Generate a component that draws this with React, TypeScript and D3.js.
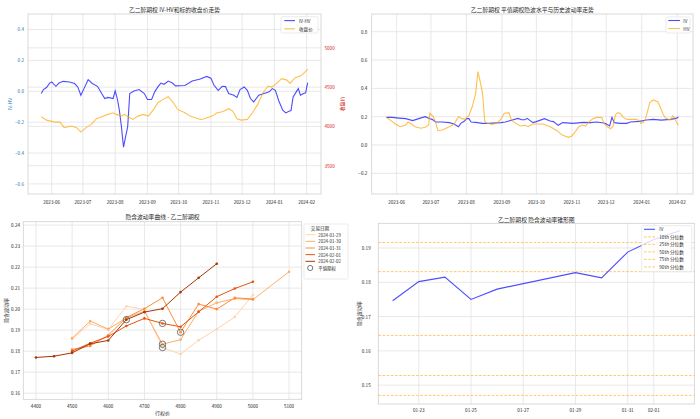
import React from 'react';
import * as d3 from 'd3';

const FONT = '"Noto Sans CJK SC", "DejaVu Sans", sans-serif';
const TEXT = '#262626';
const GRID = '#e2e2e2';
const SPINE = '#d0d0d0';

// ---------- Panel 1: IV-HV and close price ----------
const ivhvDates = ['2023-05-22','2023-05-24','2023-05-27','2023-05-30','2023-06-01','2023-06-05','2023-06-08','2023-06-12','2023-06-18','2023-06-23','2023-06-26','2023-06-29','2023-07-02','2023-07-06','2023-07-10','2023-07-15','2023-07-19','2023-07-22','2023-07-25','2023-07-30','2023-08-01','2023-08-03','2023-08-05','2023-08-07','2023-08-09','2023-08-11','2023-08-13','2023-08-15','2023-08-19','2023-08-24','2023-08-29','2023-09-01','2023-09-05','2023-09-08','2023-09-11','2023-09-14','2023-09-17','2023-09-21','2023-09-25','2023-09-28','2023-10-07','2023-10-14','2023-10-21','2023-10-28','2023-11-01','2023-11-04','2023-11-08','2023-11-12','2023-11-15','2023-11-18','2023-11-23','2023-11-26','2023-11-29','2023-12-03','2023-12-06','2023-12-09','2023-12-12','2023-12-17','2023-12-22','2023-12-27','2023-12-30','2024-01-02','2024-01-05','2024-01-09','2024-01-12','2024-01-15','2024-01-17','2024-01-19','2024-01-22','2024-01-24','2024-01-26','2024-01-29','2024-01-31','2024-02-02'];
const ivhvValues = [-0.015,0.011,0.024,0.053,0.06,0.032,0.053,0.064,0.06,0.05,0.028,-0.026,0.017,0.075,0.05,0.032,-0.015,-0.047,-0.04,-0.047,0.002,-0.047,-0.122,-0.23,-0.362,-0.294,-0.23,-0.015,0.002,0.011,-0.015,-0.053,-0.053,-0.004,0.028,0.053,0.045,0.066,0.053,0.035,0.037,0.066,0.078,0.096,0.085,0.039,0.006,0.032,0.03,-0.015,-0.026,-0.04,0.011,0.028,0.006,-0.047,-0.069,-0.026,-0.015,-0.004,0.017,0.006,-0.058,-0.122,-0.14,-0.13,-0.125,-0.037,-0.004,0.017,-0.026,-0.015,-0.01,0.055];

const closeDates = ['2023-05-22','2023-05-27','2023-06-04','2023-06-09','2023-06-13','2023-06-20','2023-06-25','2023-06-29','2023-07-04','2023-07-09','2023-07-14','2023-07-19','2023-07-25','2023-07-30','2023-08-02','2023-08-07','2023-08-10','2023-08-15','2023-08-18','2023-08-23','2023-08-28','2023-09-02','2023-09-07','2023-09-11','2023-09-16','2023-09-21','2023-09-26','2023-09-30','2023-10-07','2023-10-12','2023-10-22','2023-10-25','2023-11-02','2023-11-07','2023-11-12','2023-11-18','2023-11-22','2023-11-26','2023-11-30','2023-12-06','2023-12-11','2023-12-16','2023-12-21','2023-12-26','2023-12-29','2024-01-01','2024-01-08','2024-01-13','2024-01-16','2024-01-21','2024-01-26','2024-01-29','2024-02-02'];
const closeValues = [4123,4080,4055,4055,3984,4004,3984,3928,3984,4026,4098,4123,4153,4174,4153,4131,4153,4111,4089,4131,4153,4131,4216,4302,4344,4378,4300,4216,4174,4131,4089,4095,4131,4174,4187,4225,4195,4098,4080,4089,4174,4280,4429,4513,4500,4522,4607,4589,4547,4620,4640,4674,4725];

// ---------- Panel 2: IV and HV ----------
const ivDates = ['2023-05-23','2023-05-28','2023-06-03','2023-06-09','2023-06-15','2023-06-21','2023-06-26','2023-06-30','2023-07-02','2023-07-05','2023-07-11','2023-07-17','2023-07-21','2023-07-25','2023-07-27','2023-07-30','2023-08-01','2023-08-03','2023-08-05','2023-08-09','2023-08-15','2023-08-20','2023-08-31','2023-09-04','2023-09-07','2023-09-10','2023-09-15','2023-09-18','2023-09-21','2023-09-23','2023-09-25','2023-09-28','2023-10-01','2023-10-08','2023-10-13','2023-10-16','2023-10-20','2023-10-24','2023-11-02','2023-11-11','2023-11-17','2023-11-23','2023-11-30','2023-12-04','2023-12-06','2023-12-08','2023-12-13','2023-12-19','2023-12-22','2023-12-30','2024-01-05','2024-01-11','2024-01-18','2024-01-26','2024-01-31','2024-02-02'];
const ivValues = [0.195,0.195,0.19,0.186,0.172,0.188,0.2,0.186,0.181,0.162,0.162,0.158,0.148,0.129,0.153,0.167,0.186,0.188,0.162,0.16,0.153,0.153,0.158,0.162,0.169,0.176,0.188,0.178,0.178,0.188,0.176,0.158,0.165,0.186,0.169,0.165,0.139,0.158,0.153,0.16,0.158,0.162,0.153,0.135,0.195,0.158,0.153,0.153,0.162,0.167,0.176,0.181,0.176,0.181,0.188,0.198];

const hvDates = ['2023-05-23','2023-05-27','2023-05-31','2023-06-04','2023-06-09','2023-06-11','2023-06-14','2023-06-17','2023-06-22','2023-06-26','2023-06-29','2023-06-30','2023-07-03','2023-07-05','2023-07-07','2023-07-11','2023-07-17','2023-07-21','2023-07-23','2023-07-25','2023-07-28','2023-07-31','2023-08-01','2023-08-03','2023-08-06','2023-08-09','2023-08-11','2023-08-13','2023-08-15','2023-08-17','2023-08-19','2023-08-24','2023-08-28','2023-08-31','2023-09-03','2023-09-07','2023-09-09','2023-09-12','2023-09-17','2023-09-21','2023-09-24','2023-09-25','2023-09-28','2023-10-07','2023-10-13','2023-10-19','2023-10-24','2023-10-29','2023-11-01','2023-11-04','2023-11-07','2023-11-10','2023-11-13','2023-11-16','2023-11-20','2023-11-23','2023-11-27','2023-11-29','2023-12-02','2023-12-05','2023-12-07','2023-12-09','2023-12-11','2023-12-13','2023-12-16','2023-12-19','2023-12-27','2023-12-30','2023-12-31','2024-01-02','2024-01-04','2024-01-06','2024-01-08','2024-01-11','2024-01-15','2024-01-17','2024-01-20','2024-01-22','2024-01-26','2024-01-28','2024-01-30','2024-01-31','2024-02-02'];
const hvValues = [0.195,0.172,0.148,0.129,0.141,0.162,0.148,0.129,0.118,0.125,0.141,0.224,0.2,0.165,0.101,0.106,0.129,0.146,0.172,0.2,0.186,0.181,0.195,0.205,0.27,0.365,0.518,0.447,0.365,0.165,0.153,0.146,0.158,0.18,0.224,0.228,0.181,0.158,0.134,0.139,0.129,0.136,0.148,0.148,0.129,0.101,0.068,0.054,0.064,0.094,0.129,0.141,0.134,0.165,0.188,0.195,0.195,0.153,0.129,0.115,0.134,0.212,0.228,0.224,0.195,0.181,0.181,0.172,0.153,0.158,0.176,0.235,0.299,0.318,0.306,0.27,0.212,0.188,0.176,0.205,0.19,0.165,0.139];

// ---------- Panel 3: volatility smile ----------
const smileDates = ['2024-01-29','2024-01-30','2024-01-31','2024-02-01','2024-02-02'];
const smileColors = ['#fdd5ab','#fdae6b','#fd8d3c','#e6550d','#a63603'];
const strikes0129 = [4500,4550,4600,4650,4700,4750,4800,4850,4900,4950,5000];
const iv0129 = [0.1858,0.1930,0.1903,0.2014,0.1998,0.1817,0.1786,0.1852,0.1905,0.1963,0.2067];
const strikes0130 = [4500,4550,4600,4650,4700,4750,4800,4850,4900,4950,5000,5100];
const iv0130 = [0.1862,0.1943,0.1905,0.1958,0.1990,0.1833,0.1855,0.1990,0.2030,0.2050,0.2045,0.2178];
const strikes0131 = [4500,4550,4600,4650,4700,4750,4800,4850,4900,4950,5000];
const iv0131 = [0.1808,0.1825,0.1876,0.1960,0.2002,0.2054,0.1890,0.2024,0.2000,0.2054,0.2048];
const strikes0201 = [4500,4550,4600,4650,4700,4750,4800,4850,4900,4950,5000];
const iv0201 = [0.1800,0.1838,0.1870,0.1920,0.1956,0.1932,0.1916,0.1987,0.2059,0.2098,0.2130];
const strikes0202 = [4400,4450,4500,4550,4600,4650,4700,4750,4800,4850,4900];
const iv0202 = [0.1770,0.1776,0.1792,0.1835,0.1851,0.1950,0.1986,0.2002,0.2081,0.2149,0.2216];
const atmStrikes = [4750,4750,4800,4750,4650];

// ---------- Panel 4: IV cone ----------
const coneDates = ['2024-01-22','2024-01-23','2024-01-24','2024-01-25','2024-01-26','2024-01-29','2024-01-30','2024-01-31','2024-02-01','2024-02-02'];
const coneIV = [0.1746,0.1802,0.1815,0.1750,0.1780,0.1828,0.1813,0.1888,0.1925,0.1950];
const quantileNames = ['10th','25th','50th','75th','90th'];
const quantileValues = [0.1470,0.1528,0.1645,0.1831,0.1916];
const coneTicks = ['2024-01-23','2024-01-25','2024-01-27','2024-01-29','2024-01-31','2024-02-01'];

const iso = d3.timeParse('%Y-%m-%d') as (s: string) => Date;
const padTime = (ds: Date[]): [Date, Date] => {
  const a = d3.min(ds)!.getTime(), b = d3.max(ds)!.getTime();
  const p = (b - a) * 0.05;
  return [new Date(a - p), new Date(b + p)];
};
const pairs = (ds: string[], vs: number[]) => ds.map((d, i) => [iso(d), vs[i]] as [Date, number]);

const TS = 4.6; // tick font

function Frame({ l, r, t, b }: { l: number; r: number; t: number; b: number }) {
  return <rect x={l} y={t} width={r - l} height={b - t} fill="none" stroke={SPINE} strokeWidth={0.8} />;
}

function Panel1() {
  const P = { l: 28, r: 321, t: 14, b: 194 };
  const a = pairs(ivhvDates, ivhvValues);
  const c = pairs(closeDates, closeValues);
  const x = d3.scaleTime().domain(padTime([...a.map(d => d[0]), ...c.map(d => d[0])])).range([P.l, P.r]);
  const yL = d3.scaleLinear().domain([-0.665, 0.5]).range([P.b, P.t]);
  const yR = d3.scaleLinear().domain([3140, 5430]).range([P.b, P.t]);
  const xt = x.ticks(d3.timeMonth.every(1)!);
  const fx = d3.timeFormat('%Y-%m');
  const fL = d3.format('.1f');
  const lineA = d3.line<[Date, number]>().x(d => x(d[0])).y(d => yL(d[1]));
  const lineC = d3.line<[Date, number]>().x(d => x(d[0])).y(d => yR(d[1]));
  return (
    <g>
      {xt.map((t, i) => <line key={'gx' + i} x1={x(t)} x2={x(t)} y1={P.t} y2={P.b} stroke={GRID} strokeWidth={0.8} />)}
      {yL.ticks(6).map((t, i) => <line key={'gl' + i} x1={P.l} x2={P.r} y1={yL(t)} y2={yL(t)} stroke={GRID} strokeWidth={0.8} />)}
      {yR.ticks(5).map((t, i) => <line key={'gr' + i} x1={P.l} x2={P.r} y1={yR(t)} y2={yR(t)} stroke={GRID} strokeWidth={0.8} />)}
      <Frame {...P} />
      <path d={lineA(a)!} fill="none" stroke="blue" strokeOpacity={0.7} strokeWidth={1.1} />
      <path d={lineC(c)!} fill="none" stroke="orange" strokeOpacity={0.7} strokeWidth={1.1} />
      {xt.map((t, i) => <text key={'tx' + i} x={x(t)} y={201.7} fontSize={TS} textAnchor="middle" dominantBaseline="central" fill={TEXT}>{fx(t)}</text>)}
      {yL.ticks(6).map((t, i) => <text key={'tl' + i} x={24} y={yL(t)} fontSize={TS} textAnchor="end" dominantBaseline="central" fill="#1f77b4">{fL(t)}</text>)}
      {yR.ticks(5).map((t, i) => <text key={'tr' + i} x={324.5} y={yR(t)} fontSize={TS} textAnchor="start" dominantBaseline="central" fill="#d62728">{t}</text>)}
      <text x={9} y={(P.t + P.b) / 2} fontSize={5} fill="#1f77b4" textAnchor="middle" dominantBaseline="central" transform={`rotate(-90 9 ${(P.t + P.b) / 2})`}>IV-HV</text>
      <text x={341} y={(P.t + P.b) / 2} fontSize={5} fill="#d62728" textAnchor="middle" dominantBaseline="central" transform={`rotate(-90 341 ${(P.t + P.b) / 2})`}>收盘价</text>
      <text x={(P.l + P.r) / 2} y={9.3} fontSize={5.8} textAnchor="middle" dominantBaseline="central" fill={TEXT}>乙二醇期权 IV-HV和标的收盘价走势</text>
      <rect x={281} y={16.7} width={37} height={16.3} rx={1.2} fill="white" fillOpacity={0.85} stroke="#dddddd" strokeWidth={0.6} />
      <line x1={284.3} x2={295} y1={20.6} y2={20.6} stroke="blue" strokeOpacity={0.7} strokeWidth={1.1} />
      <text x={299} y={20.6} fontSize={4.6} dominantBaseline="central" fill={TEXT}>IV-HV</text>
      <line x1={284.3} x2={295} y1={28.8} y2={28.8} stroke="orange" strokeOpacity={0.7} strokeWidth={1.1} />
      <text x={299} y={28.8} fontSize={4.6} dominantBaseline="central" fill={TEXT}>收盘价</text>
    </g>
  );
}

function Panel2() {
  const P = { l: 371.7, r: 693, t: 14, b: 194 };
  const a = pairs(ivDates, ivValues);
  const h = pairs(hvDates, hvValues);
  const x = d3.scaleTime().domain(padTime([...a.map(d => d[0]), ...h.map(d => d[0])])).range([P.l, P.r]);
  const y = d3.scaleLinear().domain([-0.346, 0.925]).range([P.b, P.t]);
  const xt = x.ticks(d3.timeMonth.every(1)!);
  const fx = d3.timeFormat('%Y-%m');
  const fy = d3.format('.1f');
  const ln = d3.line<[Date, number]>().x(d => x(d[0])).y(d => y(d[1]));
  return (
    <g>
      {xt.map((t, i) => <line key={'gx' + i} x1={x(t)} x2={x(t)} y1={P.t} y2={P.b} stroke={GRID} strokeWidth={0.8} />)}
      {y.ticks(6).map((t, i) => <line key={'gy' + i} x1={P.l} x2={P.r} y1={y(t)} y2={y(t)} stroke={GRID} strokeWidth={0.8} />)}
      <Frame {...P} />
      <path d={ln(a)!} fill="none" stroke="blue" strokeOpacity={0.7} strokeWidth={1.1} />
      <path d={ln(h)!} fill="none" stroke="orange" strokeOpacity={0.7} strokeWidth={1.1} />
      {xt.map((t, i) => <text key={'tx' + i} x={x(t)} y={201.7} fontSize={TS} textAnchor="middle" dominantBaseline="central" fill={TEXT}>{fx(t)}</text>)}
      {y.ticks(6).map((t, i) => <text key={'ty' + i} x={367.3} y={y(t)} fontSize={TS} textAnchor="end" dominantBaseline="central" fill={TEXT}>{fy(t)}</text>)}
      <text x={(P.l + P.r) / 2} y={9.3} fontSize={5.8} textAnchor="middle" dominantBaseline="central" fill={TEXT}>乙二醇期权 平值期权隐波水平与历史波动率走势</text>
      <rect x={666} y={17} width={24} height={16} rx={1.2} fill="white" fillOpacity={0.85} stroke="#dddddd" strokeWidth={0.6} />
      <line x1={668.3} x2={680} y1={20.5} y2={20.5} stroke="blue" strokeOpacity={0.7} strokeWidth={1.1} />
      <text x={683.3} y={20.5} fontSize={4.6} dominantBaseline="central" fill={TEXT}>IV</text>
      <line x1={668.3} x2={680} y1={28.5} y2={28.5} stroke="orange" strokeOpacity={0.7} strokeWidth={1.1} />
      <text x={683.3} y={28.5} fontSize={4.6} dominantBaseline="central" fill={TEXT}>HV</text>
    </g>
  );
}

function Panel3() {
  const P = { l: 23.3, r: 301.7, t: 221.7, b: 399.3 };
  const series = [
    { s: strikes0129, v: iv0129 },
    { s: strikes0130, v: iv0130 },
    { s: strikes0131, v: iv0131 },
    { s: strikes0201, v: iv0201 },
    { s: strikes0202, v: iv0202 },
  ];
  const all = series.flatMap(d => d.s);
  const lo = d3.min(all)!, hi = d3.max(all)!;
  const pad = (hi - lo) * 0.05;
  const x = d3.scaleLinear().domain([lo - pad, hi + pad]).range([P.l, P.r]);
  const y = d3.scaleLinear().domain([0.1571, 0.2416]).range([P.b, P.t]);
  const xt = d3.range(4400, 5101, 100);
  const yt = y.ticks(8);
  const fy = d3.format('.2f');
  const ln = d3.line<number>().x((_, i) => 0).y(() => 0);
  return (
    <g>
      {xt.map((t, i) => <line key={'gx' + i} x1={x(t)} x2={x(t)} y1={P.t} y2={P.b} stroke={GRID} strokeWidth={0.8} />)}
      {yt.map((t, i) => <line key={'gy' + i} x1={P.l} x2={P.r} y1={y(t)} y2={y(t)} stroke={GRID} strokeWidth={0.8} />)}
      <Frame {...P} />
      {series.map((d, k) => {
        const pts = d.s.map((s, i) => [s, d.v[i]] as [number, number]);
        const path = d3.line<[number, number]>().x(p => x(p[0])).y(p => y(p[1]))(pts)!;
        return (
          <g key={'s' + k}>
            <path d={path} fill="none" stroke={smileColors[k]} strokeWidth={1} />
            {pts.map((p, i) => <circle key={i} cx={x(p[0])} cy={y(p[1])} r={1.3} fill={smileColors[k]} />)}
          </g>
        );
      })}
      {series.map((d, k) => {
        const idx = d.s.indexOf(atmStrikes[k]);
        return <circle key={'atm' + k} cx={x(atmStrikes[k])} cy={y(d.v[idx])} r={3.2} fill="none" stroke="#555555" strokeWidth={0.8} />;
      })}
      {xt.map((t, i) => <text key={'tx' + i} x={x(t)} y={406} fontSize={TS} textAnchor="middle" dominantBaseline="central" fill={TEXT}>{t}</text>)}
      {yt.map((t, i) => <text key={'ty' + i} x={20} y={y(t)} fontSize={TS} textAnchor="end" dominantBaseline="central" fill={TEXT}>{fy(t)}</text>)}
      <text x={(P.l + P.r) / 2} y={412.5} fontSize={5} textAnchor="middle" dominantBaseline="central" fill={TEXT}>行权价</text>
      <text x={5} y={(P.t + P.b) / 2} fontSize={5} textAnchor="middle" dominantBaseline="central" fill={TEXT} transform={`rotate(-90 5 ${(P.t + P.b) / 2})`}>隐含波动率</text>
      <text x={(P.l + P.r) / 2} y={216.7} fontSize={5.8} textAnchor="middle" dominantBaseline="central" fill={TEXT}>隐含波动率曲线 - 乙二醇期权</text>
      <rect x={304} y={224} width={44} height={55} rx={1.2} fill="white" stroke="#dddddd" strokeWidth={0.6} />
      <text x={320} y={227.5} fontSize={4.6} textAnchor="middle" dominantBaseline="central" fill={TEXT}>交易日期</text>
      {smileDates.map((d, k) => (
        <g key={'lg' + k}>
          <line x1={305.5} x2={315} y1={234.7 + k * 6.65} y2={234.7 + k * 6.65} stroke={smileColors[k]} strokeWidth={1} />
          <text x={318.3} y={234.7 + k * 6.65} fontSize={4.4} dominantBaseline="central" fill={TEXT}>{d}</text>
        </g>
      ))}
      <circle cx={310.2} cy={268} r={2.6} fill="none" stroke="#555555" strokeWidth={0.8} />
      <text x={318.3} y={268} fontSize={4.4} dominantBaseline="central" fill={TEXT}>平值期权</text>
    </g>
  );
}

function Panel4() {
  const P = { l: 378.3, r: 694.3, t: 223.3, b: 404 };
  const pts = pairs(coneDates, coneIV);
  const x = d3.scaleTime().domain(padTime(pts.map(d => d[0]))).range([P.l, P.r]);
  const y = d3.scaleLinear().domain([0.1445, 0.1972]).range([P.b, P.t]);
  const xt = coneTicks.map(iso);
  const fx = d3.timeFormat('%m-%d');
  const yt = y.ticks(5);
  const fy = d3.format('.2f');
  const ln = d3.line<[Date, number]>().x(d => x(d[0])).y(d => y(d[1]));
  return (
    <g>
      {xt.map((t, i) => <line key={'gx' + i} x1={x(t)} x2={x(t)} y1={P.t} y2={P.b} stroke={GRID} strokeWidth={0.8} />)}
      {yt.map((t, i) => <line key={'gy' + i} x1={P.l} x2={P.r} y1={y(t)} y2={y(t)} stroke={GRID} strokeWidth={0.8} />)}
      <Frame {...P} />
      {quantileValues.map((q, i) => <line key={'q' + i} x1={P.l} x2={P.r} y1={y(q)} y2={y(q)} stroke="orange" strokeOpacity={0.75} strokeWidth={0.8} strokeDasharray="2.6,1.6" />)}
      <path d={ln(pts)!} fill="none" stroke="blue" strokeOpacity={0.7} strokeWidth={1.1} />
      {xt.map((t, i) => <text key={'tx' + i} x={x(t)} y={410.3} fontSize={TS} textAnchor="middle" dominantBaseline="central" fill={TEXT}>{fx(t)}</text>)}
      {yt.map((t, i) => <text key={'ty' + i} x={370.7} y={y(t)} fontSize={TS} textAnchor="end" dominantBaseline="central" fill={TEXT}>{fy(t)}</text>)}
      <text x={358.3} y={(P.t + P.b) / 2} fontSize={5} textAnchor="middle" dominantBaseline="central" fill={TEXT} transform={`rotate(-90 358.3 ${(P.t + P.b) / 2})`}>隐含波动率</text>
      <text x={(P.l + P.r) / 2} y={219} fontSize={5.8} textAnchor="middle" dominantBaseline="central" fill={TEXT}>乙二醇期权 隐含波动率锥形图</text>
      <rect x={641.7} y={225.7} width={50} height={46} rx={1.2} fill="white" fillOpacity={0.8} stroke="#dddddd" strokeWidth={0.6} />
      <line x1={644} x2={655} y1={229.3} y2={229.3} stroke="blue" strokeOpacity={0.7} strokeWidth={1.1} />
      <text x={659.3} y={229.3} fontSize={4.6} dominantBaseline="central" fill={TEXT}>IV</text>
      {quantileNames.map((n, i) => (
        <g key={'ql' + i}>
          <line x1={644} x2={655} y1={236.9 + i * 7.5} y2={236.9 + i * 7.5} stroke="orange" strokeOpacity={0.75} strokeWidth={0.8} strokeDasharray="2.6,1.6" />
          <text x={659.3} y={236.9 + i * 7.5} fontSize={4.6} dominantBaseline="central" fill={TEXT}>{n} 分位数</text>
        </g>
      ))}
    </g>
  );
}

export default function App() {
  return (
    <svg width={700} height={419} viewBox="0 0 700 419" style={{ position: 'absolute', left: 0, top: 0, background: 'white' }} fontFamily={FONT}>
      <rect x={0} y={0} width={700} height={419} fill="white" />
      <Panel1 />
      <Panel2 />
      <Panel3 />
      <Panel4 />
    </svg>
  );
}
